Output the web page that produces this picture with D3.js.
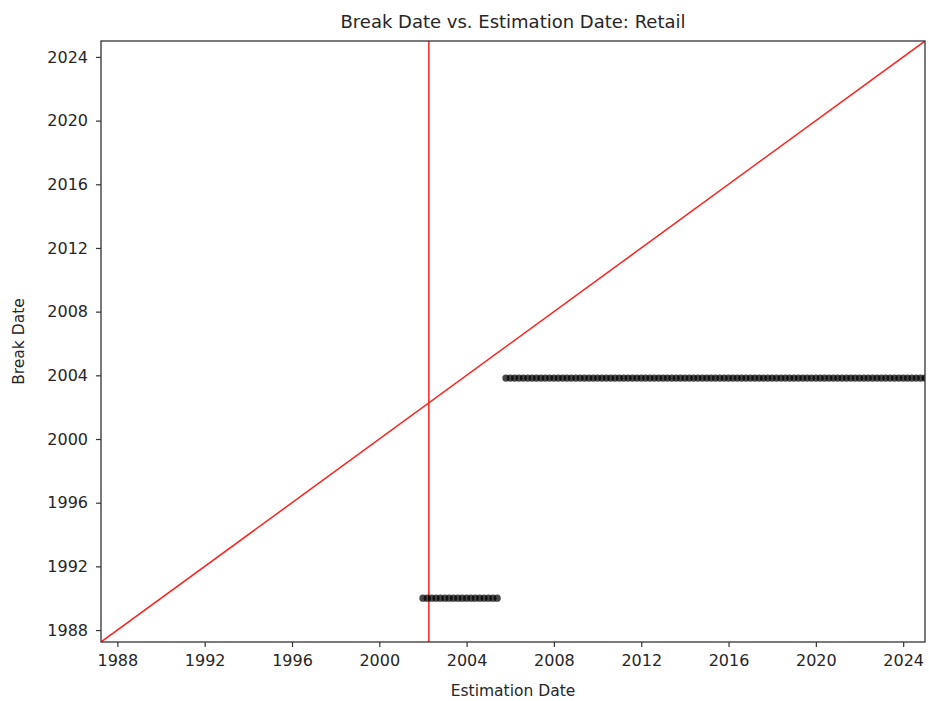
<!DOCTYPE html>
<html>
<head>
<meta charset="utf-8">
<script src="https://cdn.jsdelivr.net/npm/d3@7"></script>
<style>
  body { margin: 0; background: #fff; }
  text { font-family: "DejaVu Sans", sans-serif; fill: #262626; }
</style>
</head>
<body>
<div id="chart"></div>
<script>
// estimation dates (decimal years) of each estimate, grouped by the break date found
const lowRowDates = [2002.0, 2002.2, 2002.4, 2002.6, 2002.8, 2003.0, 2003.2, 2003.4, 2003.6, 2003.8,
    2004.0, 2004.2, 2004.4, 2004.6, 2004.8, 2005.0, 2005.2, 2005.4];
const highRowDates = [2005.8, 2006.0, 2006.2, 2006.4, 2006.6, 2006.8, 2007.0, 2007.2, 2007.4, 2007.6, 2007.8,
    2008.0, 2008.2, 2008.4, 2008.6, 2008.8, 2009.0, 2009.2, 2009.4, 2009.6, 2009.8,
    2010.0, 2010.2, 2010.4, 2010.6, 2010.8, 2011.0, 2011.2, 2011.4, 2011.6, 2011.8,
    2012.0, 2012.2, 2012.4, 2012.6, 2012.8, 2013.0, 2013.2, 2013.4, 2013.6, 2013.8,
    2014.0, 2014.2, 2014.4, 2014.6, 2014.8, 2015.0, 2015.2, 2015.4, 2015.6, 2015.8,
    2016.0, 2016.2, 2016.4, 2016.6, 2016.8, 2017.0, 2017.2, 2017.4, 2017.6, 2017.8,
    2018.0, 2018.2, 2018.4, 2018.6, 2018.8, 2019.0, 2019.2, 2019.4, 2019.6, 2019.8,
    2020.0, 2020.2, 2020.4, 2020.6, 2020.8, 2021.0, 2021.2, 2021.4, 2021.6, 2021.8,
    2022.0, 2022.2, 2022.4, 2022.6, 2022.8, 2023.0, 2023.2, 2023.4, 2023.6, 2023.8,
    2024.0, 2024.2, 2024.4, 2024.6, 2024.8, 2025.0];
const lowBreak = 1990.0;
const highBreak = 2003.83;
const markerDate = 2002.27;
const axisRange = [1987.25, 2025.0];
const tickYears = [1988, 1992, 1996, 2000, 2004, 2008, 2012, 2016, 2020, 2024];

const points = lowRowDates.map(d => ({est: d, brk: lowBreak}))
    .concat(highRowDates.map(d => ({est: d, brk: highBreak})));

const margin = {top: 41, right: 4, bottom: 59, left: 101};
const width = 929 - margin.left - margin.right;
const height = 701 - margin.top - margin.bottom;

const root = d3.select("#chart").append("svg")
    .attr("width", 929)
    .attr("height", 701);

const svg = root.append("g")
    .attr("transform", "translate(" + margin.left + "," + margin.top + ")");

const x = d3.scaleLinear().domain(axisRange).range([0, width]);
const y = d3.scaleLinear().domain(axisRange).range([height, 0]);

svg.append("defs").append("clipPath").attr("id", "plot-clip")
    .append("rect").attr("width", width).attr("height", height);

const plot = svg.append("g").attr("clip-path", "url(#plot-clip)");

// break date = estimation date reference line
plot.append("line")
    .attr("x1", x(axisRange[0])).attr("y1", y(axisRange[0]))
    .attr("x2", x(axisRange[1])).attr("y2", y(axisRange[1]))
    .attr("stroke", "#ff2020")
    .attr("stroke-width", 1.5);

plot.append("line")
    .attr("x1", x(markerDate)).attr("x2", x(markerDate))
    .attr("y1", 0).attr("y2", height)
    .attr("stroke", "#ff2020")
    .attr("stroke-width", 1.5);

plot.selectAll("circle").data(points).enter().append("circle")
    .attr("cx", d => x(d.est))
    .attr("cy", d => y(d.brk))
    .attr("r", 3.6)
    .attr("fill", "#000")
    .attr("fill-opacity", 0.72);

const xAxis = d3.axisBottom(x).tickValues(tickYears).tickFormat(d => d).tickSize(5).tickPadding(8);
const yAxis = d3.axisLeft(y).tickValues(tickYears).tickFormat(d => d).tickSize(5).tickPadding(8);

svg.append("g")
    .attr("class", "x-axis axis")
    .attr("transform", "translate(0," + height + ")")
    .call(xAxis);

svg.append("g")
    .attr("class", "y-axis axis")
    .call(yAxis);

svg.selectAll(".axis .domain").remove();
svg.selectAll(".axis line").attr("stroke", "#333").attr("stroke-width", 1.2);
svg.selectAll(".axis text").style("font-size", "16px").attr("fill", "#262626");

svg.append("rect")
    .attr("width", width).attr("height", height)
    .attr("fill", "none")
    .attr("stroke", "#333")
    .attr("stroke-width", 1.3);

svg.append("text")
    .attr("x", width / 2).attr("y", -13)
    .attr("text-anchor", "middle")
    .style("font-size", "18px")
    .text("Break Date vs. Estimation Date: Retail");

svg.append("text")
    .attr("x", width / 2).attr("y", height + 54)
    .attr("text-anchor", "middle")
    .style("font-size", "15.5px")
    .text("Estimation Date");

svg.append("text")
    .attr("transform", "translate(-77," + (height / 2) + ") rotate(-90)")
    .attr("text-anchor", "middle")
    .style("font-size", "15.5px")
    .text("Break Date");
</script>
</body>
</html>
